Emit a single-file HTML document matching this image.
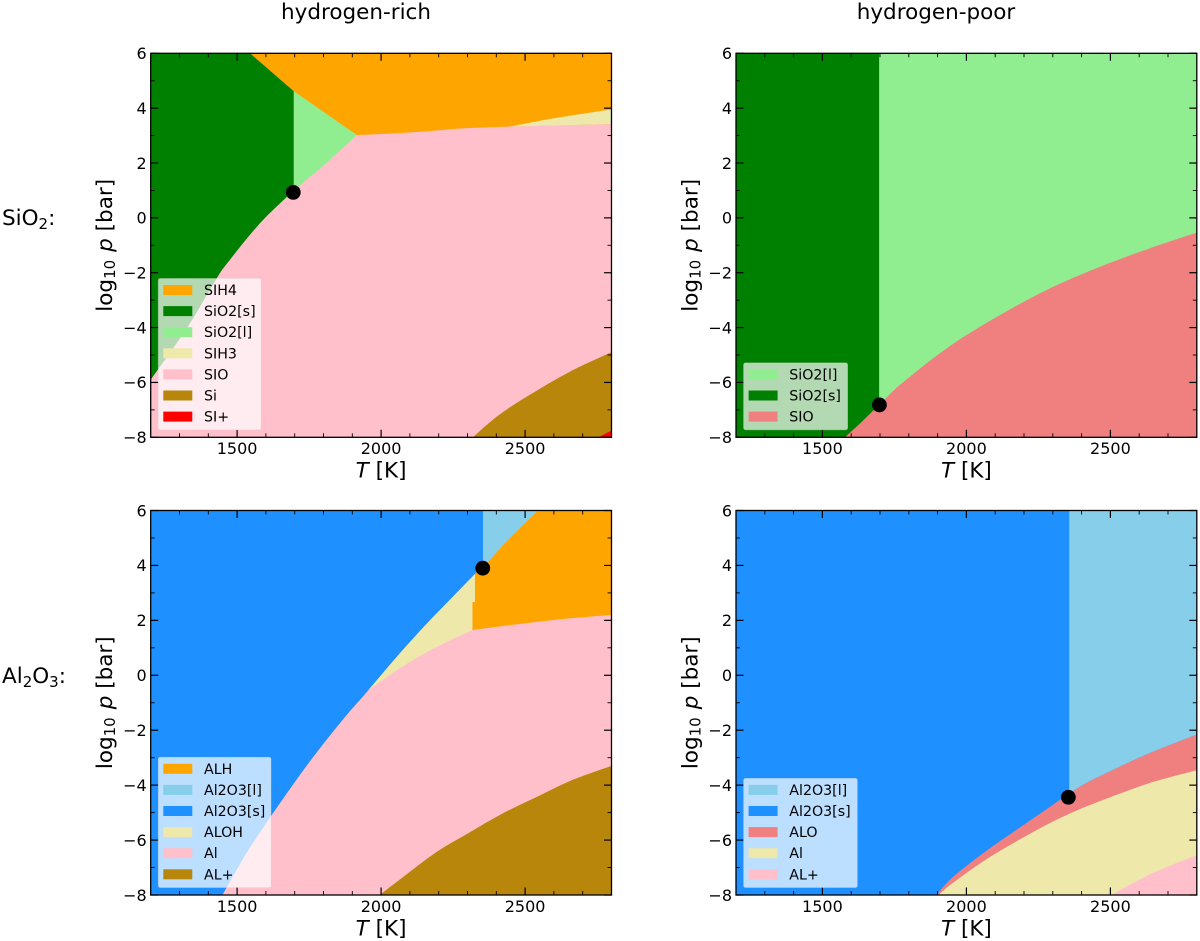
<!DOCTYPE html>
<html lang="en">
<head>
<meta charset="utf-8">
<title>Condensation phase diagrams</title>
<style>
  html, body { margin: 0; padding: 0; background: #fff; }
  #figure { display: block; width: 1200px; height: 941px; font-family: "DejaVu Sans", "Liberation Sans", sans-serif; }
</style>
</head>
<body>
<svg id="figure" xmlns="http://www.w3.org/2000/svg" width="1200" height="941" viewBox="0 0 1200 941">
  <text x="356" y="19" font-size="21.5" text-anchor="middle">hydrogen-rich</text>
  <text x="936" y="19" font-size="21.5" text-anchor="middle">hydrogen-poor</text>
  <text x="2" y="225" font-size="21.5">SiO<tspan font-size="15" dy="4">2</tspan><tspan dy="-4">:</tspan></text>
  <text x="2" y="683" font-size="21.5">Al<tspan font-size="15" dy="4">2</tspan><tspan dy="-4">O</tspan><tspan font-size="15" dy="4">3</tspan><tspan dy="-4">:</tspan></text>
</svg>
<script>
// ---- Axis data ----
const tempDomain = [1200, 2800];
const pressureDomain = [-8, 6];
const tempMajorTicks = [1500, 2000, 2500];
const tempMinorTicks = [1300, 1400, 1600, 1700, 1800, 1900, 2100, 2200, 2300, 2400, 2600, 2700];
const pressureMajorTicks = [-8, -6, -4, -2, 0, 2, 4, 6];
const pressureMinorTicks = [-7, -5, -3, -1, 1, 3, 5];

// ---- SiO2, hydrogen-rich: phase regions as [T, log10 p] ----
const siRichSih4 = [[1545,6],[1697,4.62],[1916,3.02],[2000,3.06],[2150,3.15],[2274,3.26],[2450,3.33],[2800,3.42],[2800,6]];
const siRichSih3 = [[2450,3.33],[2600,3.63],[2800,3.95],[2800,3.42]];
const siRichSolid = [[1200,6],[1545,6],[1697,4.62],[1697,1],[1597,0],[1535,-0.74],[1475,-1.53],[1441,-2],[1330,-3.95],[1200,-5.9]];
const siRichLiquid = [[1697,4.62],[1916,3.02],[1810,2],[1697,1]];
const siRichSi = [[2319,-8],[2401,-7.25],[2493,-6.6],[2657,-5.6],[2800,-4.9],[2800,-8]];
const siRichSiPlus = [[2754,-8],[2800,-7.75],[2800,-8]];
const siRichPoint = [1695, 0.93];
const siRichLegend = ["SIH4", "SiO2[s]", "SiO2[l]", "SIH3", "SIO", "Si", "SI+"];

// ---- SiO2, hydrogen-poor ----
const siPoorSolid = [[1200,6],[1697,6],[1697,-8],[1200,-8]];
const siPoorSio = [[1578,-8],[1635,-7.45],[1697,-6.82],[1769,-6.09],[1943,-4.67],[2117,-3.54],[2290,-2.57],[2464,-1.78],[2637,-1.11],[2800,-0.54],[2800,-8]];
const siPoorPoint = [1698, -6.82];
const siPoorLegend = ["SiO2[l]", "SiO2[s]", "SIO"];

// ---- Al2O3, hydrogen-rich ----
const alRichSolid = [[1200,6],[2354,6],[2354,3.95],[2326,3.69],[2228,2.63],[2158,1.87],[2066,0.81],[1956,-0.54],[1869,-1.59],[1788,-2.65],[1718,-3.63],[1620,-5.09],[1533,-6.47],[1449,-8],[1200,-8]];
const alRichLiquid = [[2354,6],[2545,6],[2447,5],[2371,4.13],[2354,3.95]];
const alRichAlh = [[2545,6],[2800,6],[2800,2.2],[2632,2.05],[2458,1.84],[2317,1.65],[2317,2.67],[2326,2.67],[2326,3.69],[2354,3.95],[2371,4.13],[2447,5]];
const alRichAloh = [[1956,-0.54],[2066,0.81],[2158,1.87],[2228,2.63],[2326,3.69],[2326,2.67],[2317,2.67],[2317,1.65],[2180,0.96],[2066,0.26]];
const alRichAlPlus = [[1995,-8],[2077,-7.34],[2193,-6.43],[2309,-5.71],[2424,-5.02],[2540,-4.43],[2656,-3.85],[2800,-3.3],[2800,-8]];
const alRichPoint = [2353, 3.9];
const alRichLegend = ["ALH", "Al2O3[l]", "Al2O3[s]", "ALOH", "Al", "AL+"];

// ---- Al2O3, hydrogen-poor ----
const alPoorLiquid = [[2357,6],[2800,6],[2800,-2.16],[2637,-2.83],[2522,-3.38],[2406,-3.98],[2357,-4.31]];
const alPoorAlo = [[1897,-8],[1943,-7.44],[2059,-6.47],[2175,-5.62],[2290,-4.79],[2357,-4.31],[2406,-3.98],[2522,-3.38],[2637,-2.83],[2800,-2.16],[2800,-8]];
const alPoorAl = [[1903,-8],[1943,-7.64],[2059,-6.77],[2175,-6.04],[2290,-5.38],[2354,-5.06],[2406,-4.82],[2522,-4.35],[2637,-3.92],[2800,-3.46],[2800,-8]];
const alPoorAlPlus = [[2504,-8],[2637,-7.25],[2800,-6.55],[2800,-8]];
const alPoorPoint = [2354, -4.44];
const alPoorLegend = ["Al2O3[l]", "Al2O3[s]", "ALO", "Al", "AL+"];

// ---- Styling ----
const ORANGE = "#FFA500", GREEN = "#008000", LIGHTGREEN = "#90EE90", KHAKI = "#EEE8AA",
      PINK = "#FFC0CB", BROWN = "#B8860B", RED = "#FF0000", SKY = "#87CEEB",
      BLUE = "#1E90FF", CORAL = "#F08080";

const SVG_NS = "http://www.w3.org/2000/svg";
const figure = document.getElementById("figure");

function shape(parent, tag, attrs) {
  const node = document.createElementNS(SVG_NS, tag);
  for (const key in attrs) node.setAttribute(key, attrs[key]);
  parent.appendChild(node);
  return node;
}

// Closed outline through vertices; gentle bends become curves, sharp bends stay corners.
function outlinePath(pts) {
  const n = pts.length;
  const isCorner = i => {
    const a = pts[(i - 1 + n) % n], b = pts[i], c = pts[(i + 1) % n];
    const a1 = Math.atan2(b[1] - a[1], b[0] - a[0]), a2 = Math.atan2(c[1] - b[1], c[0] - b[0]);
    let d = Math.abs(a1 - a2);
    if (d > Math.PI) d = 2 * Math.PI - d;
    return d > 0.6;
  };
  const direction = i => {
    if (isCorner(i)) return [0, 0];
    const a = pts[(i - 1 + n) % n], c = pts[(i + 1) % n];
    const len = Math.hypot(c[0] - a[0], c[1] - a[1]) || 1;
    return [(c[0] - a[0]) / len, (c[1] - a[1]) / len];
  };
  let d = "M" + pts[0][0].toFixed(2) + " " + pts[0][1].toFixed(2);
  for (let i = 0; i < n; i++) {
    const j = (i + 1) % n, u0 = direction(i), u1 = direction(j), p = pts[i], q = pts[j];
    const h = Math.hypot(q[0] - p[0], q[1] - p[1]) / 3;
    d += "C" + (p[0] + u0[0] * h).toFixed(2) + " " + (p[1] + u0[1] * h).toFixed(2) + " " +
         (q[0] - u1[0] * h).toFixed(2) + " " + (q[1] - u1[1] * h).toFixed(2) + " " +
         q[0].toFixed(2) + " " + q[1].toFixed(2);
  }
  return d + "Z";
}

function drawPanel(cfg) {
  const sx = t => cfg.left + (t - tempDomain[0]) / (tempDomain[1] - tempDomain[0]) * cfg.width;
  const sy = p => cfg.top + (pressureDomain[1] - p) / (pressureDomain[1] - pressureDomain[0]) * cfg.height;
  const right = sx(tempDomain[1]), bottom = sy(pressureDomain[0]);

  const group = shape(figure, "g", {});
  
  

  const base = shape(group, "rect", { x: cfg.left, y: cfg.top, width: cfg.width, height: cfg.height, fill: cfg.base });
  
  

  cfg.regions.forEach(region => {
    const poly = shape(group, "path", {
      d: outlinePath(region.pts.map(v => [sx(v[0]), sy(v[1])])),
      fill: region.color
    });
    
    
  });

  const drawXTick = (t, len, sw) => {
    [[cfg.top, cfg.top + len], [bottom, bottom - len]].forEach(pair => {
      const tick = shape(group, "line", { x1: sx(t), x2: sx(t), y1: pair[0], y2: pair[1], stroke: "#000", "stroke-width": sw });
      
      
    });
  };
  const drawYTick = (p, len, sw) => {
    [[cfg.left, cfg.left + len], [right, right - len]].forEach(pair => {
      const tick = shape(group, "line", { y1: sy(p), y2: sy(p), x1: pair[0], x2: pair[1], stroke: "#000", "stroke-width": sw });
      
      
    });
  };
  tempMinorTicks.forEach(t => drawXTick(t, 4, 0.9));
  tempMajorTicks.forEach(t => drawXTick(t, 7.5, 1.2));
  pressureMinorTicks.forEach(p => drawYTick(p, 4, 0.9));
  pressureMajorTicks.forEach(p => drawYTick(p, 7.5, 1.2));

  tempMajorTicks.forEach(t => {
    const label = shape(group, "text", { x: sx(t), y: bottom + 16.8, "font-size": 16, "text-anchor": "middle" });
    label.textContent = String(t);
    
    
  });
  pressureMajorTicks.forEach(p => {
    const label = shape(group, "text", { x: cfg.left - 4, y: sy(p) + 5.8, "font-size": 16, "text-anchor": "end" });
    label.textContent = String(p).replace("-", "\u2212");
    
    
  });

  const xTitle = shape(group, "text", { x: sx(2000), y: bottom + 40.3, "font-size": 21.5, "text-anchor": "middle" });
  
  
  const tPart = shape(xTitle, "tspan", { "font-style": "italic" });
  tPart.textContent = "T";
  const kPart = shape(xTitle, "tspan", {});
  kPart.textContent = " [K]";

  const yTitle = shape(group, "text", {
    x: 0, y: 0, "font-size": 21.5, "text-anchor": "middle",
    transform: "translate(" + (cfg.left - 38.5) + "," + (cfg.top + cfg.height / 2) + ") rotate(-90)"
  });
  
  
  const logPart = shape(yTitle, "tspan", {});
  logPart.textContent = "log";
  const subPart = shape(yTitle, "tspan", { "font-size": 15, dy: 3 });
  subPart.textContent = "10";
  const pPart = shape(yTitle, "tspan", { "font-style": "italic", dy: -3, dx: 8 });
  pPart.textContent = "p";
  const barPart = shape(yTitle, "tspan", {});
  barPart.textContent = " [bar]";

  const marker = shape(group, "circle", { cx: sx(cfg.point[0]), cy: sy(cfg.point[1]), r: 7.4, fill: "#000" });
  
  

  const spine = shape(group, "rect", { x: cfg.left, y: cfg.top, width: cfg.width, height: cfg.height, fill: "none", stroke: "#000", "stroke-width": 1.3 });
  
  

  const legendLeft = cfg.left + 7.6;
  const rowGap = 21.1;
  const n = cfg.legend.length;
  const legendBottom = bottom - 7.5;
  const legendHeight = n * rowGap + 3.6;
  const legendBox = shape(group, "rect", {
    x: legendLeft, y: legendBottom - legendHeight, width: cfg.legendWidth, height: legendHeight, rx: 2,
    fill: "#fff", "fill-opacity": 0.7, stroke: "#ddd", "stroke-opacity": 0.4, "stroke-width": 0.8
  });
  
  
  cfg.legend.forEach((name, i) => {
    const cy = legendBottom - 13.2 - (n - 1 - i) * rowGap;
    const swatch = shape(group, "rect", { x: legendLeft + 5, y: cy - 5, width: 29, height: 10, fill: cfg.legendColors[i] });
    
    
    const text = shape(group, "text", { x: legendLeft + 45.7, y: cy + 5, "font-size": 14.2 });
    text.textContent = name;
    
    
  });
}

drawPanel({
  name: "panel-sio2-hydrogen-rich", left: 150.7, top: 53.3, width: 460.8, height: 384, base: PINK,
  regions: [
    { label: "sih4", pts: siRichSih4, color: ORANGE },
    { label: "sih3", pts: siRichSih3, color: KHAKI },
    { label: "sio2-solid", pts: siRichSolid, color: GREEN },
    { label: "sio2-liquid", pts: siRichLiquid, color: LIGHTGREEN },
    { label: "si", pts: siRichSi, color: BROWN },
    { label: "si-plus", pts: siRichSiPlus, color: RED }
  ],
  point: siRichPoint, legend: siRichLegend, legendWidth: 102.7,
  legendColors: [ORANGE, GREEN, LIGHTGREEN, KHAKI, PINK, BROWN, RED]
});

drawPanel({
  name: "panel-sio2-hydrogen-poor", left: 736, top: 53.3, width: 460.8, height: 384, base: LIGHTGREEN,
  regions: [
    { label: "sio2-solid", pts: siPoorSolid, color: GREEN },
    { label: "sio", pts: siPoorSio, color: CORAL }
  ],
  point: siPoorPoint, legend: siPoorLegend, legendWidth: 104,
  legendColors: [LIGHTGREEN, GREEN, CORAL]
});

drawPanel({
  name: "panel-al2o3-hydrogen-rich", left: 150.7, top: 510.5, width: 460.8, height: 384.5, base: PINK,
  regions: [
    { label: "al2o3-solid", pts: alRichSolid, color: BLUE },
    { label: "al2o3-liquid", pts: alRichLiquid, color: SKY },
    { label: "alh", pts: alRichAlh, color: ORANGE },
    { label: "aloh", pts: alRichAloh, color: KHAKI },
    { label: "al-plus", pts: alRichAlPlus, color: BROWN }
  ],
  point: alRichPoint, legend: alRichLegend, legendWidth: 112.7,
  legendColors: [ORANGE, SKY, BLUE, KHAKI, PINK, BROWN]
});

drawPanel({
  name: "panel-al2o3-hydrogen-poor", left: 736, top: 510.5, width: 460.8, height: 384.5, base: BLUE,
  regions: [
    { label: "al2o3-liquid", pts: alPoorLiquid, color: SKY },
    { label: "alo", pts: alPoorAlo, color: CORAL },
    { label: "al", pts: alPoorAl, color: KHAKI },
    { label: "al-plus", pts: alPoorAlPlus, color: PINK }
  ],
  point: alPoorPoint, legend: alPoorLegend, legendWidth: 113.7,
  legendColors: [SKY, BLUE, CORAL, KHAKI, PINK]
});
</script>
</body>
</html>
